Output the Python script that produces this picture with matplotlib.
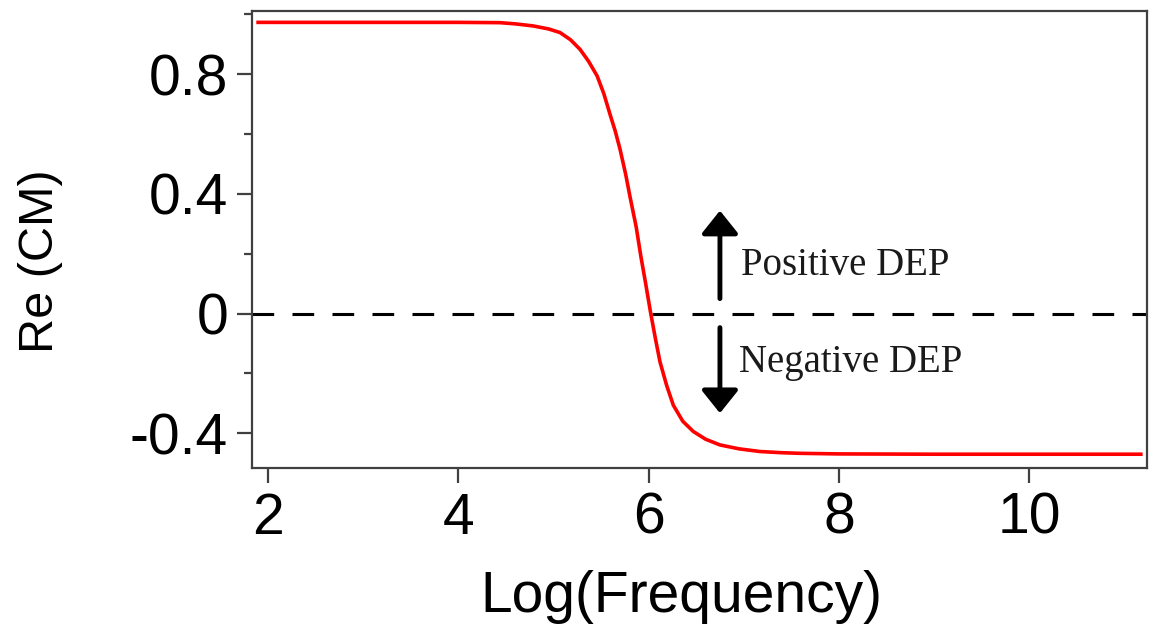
import matplotlib
matplotlib.use("Agg")
import matplotlib.pyplot as plt
from matplotlib.ticker import MultipleLocator

LOG_FREQ = [1.88, 3.0, 4.0, 4.44, 4.6, 4.79, 4.95, 5.07, 5.18, 5.28, 5.37,
            5.46, 5.53, 5.60, 5.65, 5.70, 5.76, 5.81, 5.87, 5.92, 5.97, 6.02,
            6.07, 6.12, 6.19, 6.26, 6.36, 6.47, 6.60, 6.75, 6.95, 7.17, 7.4,
            7.59, 8.0, 9.0, 10.0, 11.19]
RE_CM = [0.973, 0.973, 0.973, 0.972, 0.968, 0.961, 0.951, 0.939, 0.915,
         0.883, 0.843, 0.794, 0.735, 0.661, 0.61, 0.55, 0.465, 0.383, 0.29,
         0.19, 0.10, 0.006, -0.08, -0.161, -0.24, -0.306, -0.36, -0.394,
         -0.42, -0.439, -0.452, -0.461, -0.465, -0.467, -0.469, -0.47, -0.47,
         -0.47]

X_TICKS = [2, 4, 6, 8, 10]
Y_TICKS = [-0.4, 0, 0.4, 0.8]
Y_TICK_LABELS = ["-0.4", "0", "0.4", "0.8"]

# arrow / annotation anchors (data coords)
ARROW_X = 6.75
UP_ARROW = (0.05, 0.344)
DOWN_ARROW = (-0.047, -0.333)
POS_LABEL = (6.97, 0.128, "Positive DEP")
NEG_LABEL = (6.95, -0.194, "Negative DEP")

plt.rcParams["lines.scale_dashes"] = False
plt.rcParams["font.family"] = "Liberation Sans"
SPINE = "#404040"

fig = plt.figure(figsize=(11.5, 6.33), dpi=100)
ax = fig.add_axes([0.2189, 0.2607, 0.9974 - 0.2189, 0.9831 - 0.2607])

ax.axhline(0, color="black", lw=2.2, dashes=(15.6, 13.2))
ax.plot(LOG_FREQ, RE_CM, color="#ff0000", lw=2.6, solid_capstyle="butt")

arrow_kw = dict(arrowstyle="-|>,head_width=0.56,head_length=0.7",
                color="black", lw=3.5, mutation_scale=20,
                shrinkA=0, shrinkB=0)
ax.annotate("", xy=(ARROW_X, UP_ARROW[1]), xytext=(ARROW_X, UP_ARROW[0]),
            arrowprops=arrow_kw)
ax.annotate("", xy=(ARROW_X, DOWN_ARROW[1]), xytext=(ARROW_X, DOWN_ARROW[0]),
            arrowprops=arrow_kw)

for x, y, s in (POS_LABEL, NEG_LABEL):
    ax.text(x, y, s, family="Liberation Serif", fontsize=28,
            ha="left", va="baseline", color="#1a1a1a")

ax.set_xlim(1.832, 11.236)
ax.set_ylim(-0.516, 1.012)
ax.set_xticks(X_TICKS)
ax.set_yticks(Y_TICKS)
ax.set_yticklabels(Y_TICK_LABELS)
ax.yaxis.set_minor_locator(MultipleLocator(0.2))

for sp in ax.spines.values():
    sp.set_color(SPINE)
    sp.set_linewidth(1.6)

ax.tick_params(axis="both", which="major", direction="out", length=11,
               width=1.6, color=SPINE, labelsize=41, pad=6)
ax.tick_params(axis="y", which="minor", direction="out", length=6,
               width=1.6, color=SPINE)

ax.set_xlabel("Log(Frequency)", fontsize=41)
ax.xaxis.set_label_coords(0.4795, -0.223)
ax.set_ylabel("Re (CM)", fontsize=35)
ax.yaxis.label.set_va("center")
ax.yaxis.set_label_coords(-0.236, 0.453)

fig.savefig("out.png", dpi=100)
